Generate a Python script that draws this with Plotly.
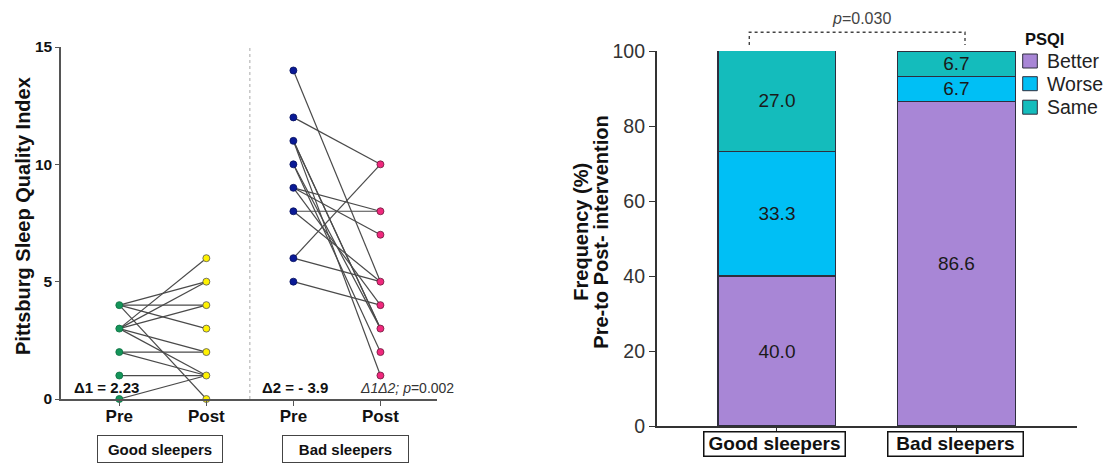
import plotly.graph_objects as go

W, H = 1109, 464


def px(x):
    return x / W


def py(y):
    return 1 - y / H


# ---------------- data ----------------
x_positions = [1, 2, 3, 4]
x_labels = ["Pre", "Post", "Pre", "Post"]
y_ticks_left = [0, 5, 10, 15]

good_pre = [4, 4, 4, 4, 3, 3, 3, 3, 3, 2, 2, 1, 0]
good_post = [5, 4, 3, 0, 6, 5, 4, 2, 1, 2, 1, 1, 1]
bad_pre = [14, 12, 11, 11, 11, 10, 10, 9, 9, 9, 8, 8, 6, 6, 5]
bad_post = [5, 10, 3, 3, 1, 2, 3, 8, 7, 4, 8, 5, 10, 5, 4]

groups = ["Good sleepers", "Bad sleepers"]
categories = ["Better", "Worse", "Same"]
better = [40.0, 86.6]
worse = [33.3, 6.7]
same = [27.0, 6.7]
colors = ["#a886d6", "#00bff5", "#14bcbc"]
y_ticks_right = [0, 20, 40, 60, 80, 100]

FONT = "Arial, Liberation Sans, sans-serif"

fig = go.Figure()


def pair_lines(pre, post, xa, xb):
    xs, ys = [], []
    for a, b in zip(pre, post):
        xs += [xa, xb, None]
        ys += [a, b, None]
    return xs, ys


for pre, post, xa, xb in [(good_pre, good_post, 1, 2), (bad_pre, bad_post, 3, 4)]:
    xs, ys = pair_lines(pre, post, xa, xb)
    fig.add_trace(go.Scatter(x=xs, y=ys, mode="lines", line=dict(color="#4a4a4a", width=1.2),
                             xaxis="x", yaxis="y", showlegend=False, hoverinfo="skip",
                             cliponaxis=False))

marker_specs = [
    (good_pre, 1, "#14955a", "#0d6e40"),
    (good_post, 2, "#fff200", "#555555"),
    (bad_pre, 3, "#0a1a96", "#06105e"),
    (bad_post, 4, "#f0287d", "#6a1a3a"),
]
for vals, xpos, col, lc in marker_specs:
    uniq = sorted(set(vals))
    fig.add_trace(go.Scatter(x=[xpos] * len(uniq), y=uniq, mode="markers",
                             marker=dict(size=7, color=col, line=dict(color=lc, width=0.8)),
                             xaxis="x", yaxis="y", showlegend=False, cliponaxis=False))

# ---------------- right panel bars ----------------
bar_line = dict(color="#2e2e3e", width=1.2)
for name, vals, col in zip(categories, [better, worse, same], colors):
    fig.add_trace(go.Bar(x=groups, y=vals, name=name, marker=dict(color=col, line=bar_line),
                         text=[f"{v:.1f}" for v in vals], textposition="inside",
                         insidetextanchor="middle", constraintext="none",
                         textfont=dict(family=FONT, size=19, color="#1a1a1a"),
                         width=0.656, xaxis="x2", yaxis="y2", showlegend=False))

axis_common = dict(showgrid=False, zeroline=False, showline=True, ticks="outside", automargin=False)

fig.update_layout(
    width=W, height=H, margin=dict(l=0, r=0, t=0, b=0, pad=0, autoexpand=False),
    paper_bgcolor="white", plot_bgcolor="white",
    font=dict(family=FONT, color="#111"),
    barmode="stack", showlegend=False,
    xaxis=dict(domain=[px(61), px(437)], range=[0.33, 4.65], tickvals=x_positions, ticktext=x_labels,
               tickfont=dict(size=17, weight="bold", color="#111"), linecolor="#555", linewidth=1.5,
               ticklen=5, tickcolor="#555", ticklabelstandoff=-4, anchor="y", **axis_common),
    yaxis=dict(domain=[py(399), py(47)], range=[0, 15], tickvals=y_ticks_left,
               tickfont=dict(size=15.5, weight="bold", color="#111"), linecolor="#555", linewidth=1.5,
               ticklen=4, tickcolor="#555", anchor="x", **axis_common),
    xaxis2=dict(domain=[px(656.7), px(1076.7)], range=[-0.670, 1.670], showticklabels=False,
                linecolor="#333", linewidth=1.5, ticklen=5, tickcolor="#333", anchor="y2", **axis_common),
    yaxis2=dict(domain=[py(426), py(51)], range=[0, 100], tickvals=y_ticks_right,
                tickfont=dict(size=19.5, color="#333"), linecolor="#333", linewidth=1.5,
                ticklen=6, tickcolor="#333", anchor="x2", **axis_common),
)


def A(text, x, y, size, color="#111", xanchor="center", yanchor="middle", **kw):
    d = dict(text=text, x=px(x), y=py(y), xref="paper", yref="paper", xanchor=xanchor,
             yanchor=yanchor, showarrow=False, font=dict(size=size, color=color, family=FONT))
    d.update(kw)
    return d


ann = []
ann.append(A("<b>Pittsburg Sleep Quality Index</b>", 23, 216, 20, textangle=-90))
ann.append(A("<b>Δ1 = 2.23</b>", 72, 387, 15, xanchor="left"))
ann.append(A("<b>Δ2 = - 3.9</b>", 260, 387, 15, xanchor="left"))
ann.append(A("<i>Δ1Δ2; p</i>=0.002", 456, 388, 14, color="#333", xanchor="right"))
for label, cx, w in [("Good sleepers", 159.5, 122), ("Bad sleepers", 345, 123)]:
    ann.append(A(f"<b>{label}</b>", cx, 448.5, 15, bordercolor="#444", borderwidth=1,
                 width=w, height=24, bgcolor="white"))
for label, cx, w in [("Good sleepers", 774.5, 138), ("Bad sleepers", 955.8, 132)]:
    ann.append(A(f"<b>{label}</b>", cx, 444.3, 19, bordercolor="#111", borderwidth=1.5,
                 width=w, height=20.5, borderpad=1, bgcolor="white"))
ann.append(A("<b>Frequency (%)</b>", 580.7, 232, 20, textangle=-90))
ann.append(A("<b>Pre-to Post- intervention</b>", 600.7, 232, 20, textangle=-90))
ann.append(A("<i>p</i>=0.030", 861, 18.3, 16, color="#444"))
# legend (drawn as text + swatches)
ann.append(A("<b>PSQI</b>", 1023, 38.5, 16.5, xanchor="left"))
legend_y = [61, 83.7, 107.2]
shapes = []
for name, col, yy in zip(categories, colors, legend_y):
    ann.append(A(name, 1045, yy, 19.5, color="#222", xanchor="left"))
    shapes.append(dict(type="rect", xref="paper", yref="paper", x0=px(1022.7), x1=px(1037.3),
                       y0=py(yy + 7), y1=py(yy - 7), fillcolor=col, line=dict(color="#2e2e3e", width=1)))
fig.update_layout(annotations=ann)

shapes.append(dict(type="line", xref="x", yref="paper", x0=2.5, x1=2.5, y0=py(399), y1=py(45),
                   line=dict(color="#aaaaaa", width=1, dash="dot")))
shapes.append(dict(type="path", xref="paper", yref="paper",
                   path=f"M {px(749.3)},{py(45)} L {px(749.3)},{py(32.3)} L {px(965)},{py(32.3)} L {px(965)},{py(45)}",
                   line=dict(color="#444", width=1.4, dash="dot")))
fig.update_layout(shapes=shapes)

fig.write_html(
    "out.html",
    config={"displayModeBar": False},
    post_script="document.body.style.margin='0';document.body.style.overflow='hidden';"
                "document.documentElement.style.overflow='hidden';",
)
